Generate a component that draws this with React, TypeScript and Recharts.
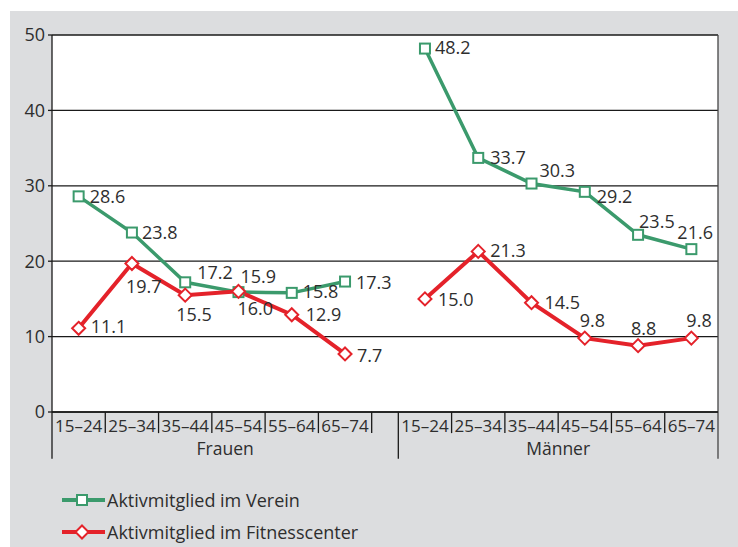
import React from 'react';
import { LineChart, Line, XAxis, YAxis, CartesianGrid, ReferenceLine, LabelList, Legend } from 'recharts';

// ---- data ----
const groups = ['Frauen', 'Männer'];
const ageGroups = ['15–24', '25–34', '35–44', '45–54', '55–64', '65–74'];
const vereinFrauen = [28.6, 23.8, 17.2, 15.9, 15.8, 17.3];
const vereinMaenner = [48.2, 33.7, 30.3, 29.2, 23.5, 21.6];
const fitnessFrauen = [11.1, 19.7, 15.5, 16.0, 12.9, 7.7];
const fitnessMaenner = [15.0, 21.3, 14.5, 9.8, 8.8, 9.8];
const yTicks = [0, 10, 20, 30, 40, 50];
const seriesNames = ['Aktivmitglied im Verein', 'Aktivmitglied im Fitnesscenter'];

// label placement (dx, dy) per point, styling only
const vereinLabelOffsets = [
  [11, 0], [10, -1], [12, -10], [2, -16], [11, -2], [11, 0],
  [10, -2], [12, -1], [8, -14], [12, 4], [1, -14], [-14, -17],
];
const fitnessLabelOffsets = [
  [12, -2], [-6, 23], [-9, 19], [-1, 17], [14, -1], [12, 1],
  [13, 0], [12, -1], [13, -1], [-5, -18], [-7, -18], [-5, -18],
];

const GREEN = '#3b9a6c';
const RED = '#e4222a';
const TEXT = '#2e2e2e';
const FONT = '"Open Sans", sans-serif';

// band layout: Frauen bands [0,6], half-band gap, Männer bands [6.5,12.5]
const GAP_START = ageGroups.length;
const MEN_START = ageGroups.length + 0.5;
const X_MAX = MEN_START + ageGroups.length;

type Row = { x: number; age: string; verein: number | null; fitness: number | null };
const data: Row[] = [];
ageGroups.forEach((a, i) => data.push({ x: i + 0.5, age: a, verein: vereinFrauen[i], fitness: fitnessFrauen[i] }));
data.push({ x: (GAP_START + MEN_START) / 2, age: '', verein: null, fitness: null });
ageGroups.forEach((a, i) => data.push({ x: MEN_START + i + 0.5, age: a, verein: vereinMaenner[i], fitness: fitnessMaenner[i] }));

const xTicks = data.filter((d) => d.age).map((d) => d.x);
const ageByX = (v: number) => {
  const r = data.find((d) => Math.abs(d.x - v) < 1e-6);
  return r ? r.age : '';
};
const groupTicks = [MEN_START / 2, (MEN_START + X_MAX) / 2];
const groupByX = (v: number) => (v < MEN_START ? groups[0] : groups[1]);

const shortDividers = [1, 2, 3, 4, 5, 6, 7.5, 8.5, 9.5, 10.5, 11.5];
const longDividers = [0, MEN_START, X_MAX];

const pointIndex = (idx: number) => (idx < GAP_START ? idx : idx - 1);

const makeLabel = (offsets: number[][]) => (props: any) => {
  const { x, y, value, index } = props;
  if (value == null || x == null || y == null) return null;
  const o = offsets[pointIndex(index)] || [10, 0];
  return (
    <text
      x={x + o[0]}
      y={y + o[1]}
      fill={TEXT}
      fontSize={18}
      fontFamily={FONT}
      textAnchor="start"
      dominantBaseline="central"
    >
      {Number(value).toFixed(1)}
    </text>
  );
};

const SquareDot = (props: any) => {
  const { cx, cy, value, index } = props;
  if (value == null || cx == null || cy == null) return <g key={`s${index}`} />;
  return <rect key={`s${index}`} x={cx - 5} y={cy - 5} width={10} height={10} fill="#fff" stroke={GREEN} strokeWidth={2} />;
};

const DiamondDot = (props: any) => {
  const { cx, cy, value, index } = props;
  if (value == null || cx == null || cy == null) return <g key={`d${index}`} />;
  const r = 6.5;
  return (
    <path
      key={`d${index}`}
      d={`M${cx},${cy - r}L${cx + r},${cy}L${cx},${cy + r}L${cx - r},${cy}Z`}
      fill="#fff"
      stroke={RED}
      strokeWidth={2}
    />
  );
};

const LegendContent = () => (
  <div style={{ height: 82, overflow: 'visible', paddingLeft: 52, paddingTop: 24, boxSizing: 'border-box', fontFamily: FONT }}>
    {seriesNames.map((name, i) => (
      <div key={name} style={{ height: 32, display: 'flex', alignItems: 'center' }}>
        <svg width={45} height={16} style={{ display: 'block' }}>
          <line x1={0} y1={8} x2={43} y2={8} stroke={i === 0 ? GREEN : RED} strokeWidth={4} />
          {i === 0 ? (
            <rect x={15} y={3} width={10} height={10} fill="#fff" stroke={GREEN} strokeWidth={2} />
          ) : (
            <path d="M20,1.5L26.5,8L20,14.5L13.5,8Z" fill="#fff" stroke={RED} strokeWidth={2} />
          )}
        </svg>
        <span style={{ fontSize: 18, color: TEXT, marginLeft: 0 }}>{name}</span>
      </div>
    ))}
  </div>
);

export default function App() {
  return (
    <div style={{ position: 'fixed', left: 10, top: 11, width: 728, height: 536, background: '#dcdddf' }}>
      <LineChart width={728} height={536} data={data} margin={{ top: 24, right: 20, left: 0, bottom: 5 }}>
        <CartesianGrid horizontal vertical={false} stroke="#1a1a1a" strokeWidth={1.3} fill="#ffffff" fillOpacity={1} />
        <XAxis
          xAxisId={0}
          dataKey="x"
          type="number"
          domain={[0, X_MAX]}
          ticks={xTicks}
          tickFormatter={ageByX}
          interval={0}
          allowDataOverflow
          tickLine={false}
          axisLine={{ stroke: '#1a1a1a', strokeWidth: 1.3 }}
          height={23}
          tick={{ fill: TEXT, fontSize: 17, fontFamily: FONT }}
        />
        <XAxis
          xAxisId="g"
          dataKey="x"
          type="number"
          domain={[0, X_MAX]}
          ticks={groupTicks}
          tickFormatter={groupByX}
          interval={0}
          allowDataOverflow
          tickLine={false}
          axisLine={false}
          height={25}
          tick={{ fill: TEXT, fontSize: 17.5, fontFamily: FONT }}
        />
        <YAxis
          domain={[0, 50]}
          ticks={yTicks}
          interval={0}
          width={42}
          tickSize={4}
          tickMargin={3}
          axisLine={{ stroke: '#1a1a1a', strokeWidth: 1.3 }}
          tickLine={{ stroke: '#1a1a1a', strokeWidth: 1.3 }}
          tick={{ fill: TEXT, fontSize: 18, fontFamily: FONT }}
        />
        {shortDividers.map((v) => (
          <ReferenceLine
            key={`sd${v}`}
            xAxisId={0}
            segment={[{ x: v, y: 0 }, { x: v, y: -2.8 }]}
            stroke="#1a1a1a"
            strokeWidth={1.3}
            ifOverflow="visible"
          />
        ))}
        {longDividers.map((v) => (
          <ReferenceLine
            key={`ld${v}`}
            xAxisId={0}
            segment={[{ x: v, y: v === X_MAX ? 50 : 0 }, { x: v, y: -6.2 }]}
            stroke={v === X_MAX ? '#444' : '#1a1a1a'}
            strokeWidth={1.3}
            ifOverflow="visible"
          />
        ))}
        <Line
          xAxisId={0}
          dataKey="verein"
          name={seriesNames[0]}
          stroke={GREEN}
          strokeWidth={3.5}
          dot={SquareDot}
          activeDot={false}
          connectNulls={false}
          isAnimationActive={false}
        >
          <LabelList dataKey="verein" content={makeLabel(vereinLabelOffsets)} />
        </Line>
        <Line
          xAxisId={0}
          dataKey="fitness"
          name={seriesNames[1]}
          stroke={RED}
          strokeWidth={4}
          dot={DiamondDot}
          activeDot={false}
          connectNulls={false}
          isAnimationActive={false}
        >
          <LabelList dataKey="fitness" content={makeLabel(fitnessLabelOffsets)} />
        </Line>
        <Legend verticalAlign="bottom" align="left" layout="horizontal" content={<LegendContent />} />
      </LineChart>
    </div>
  );
}
